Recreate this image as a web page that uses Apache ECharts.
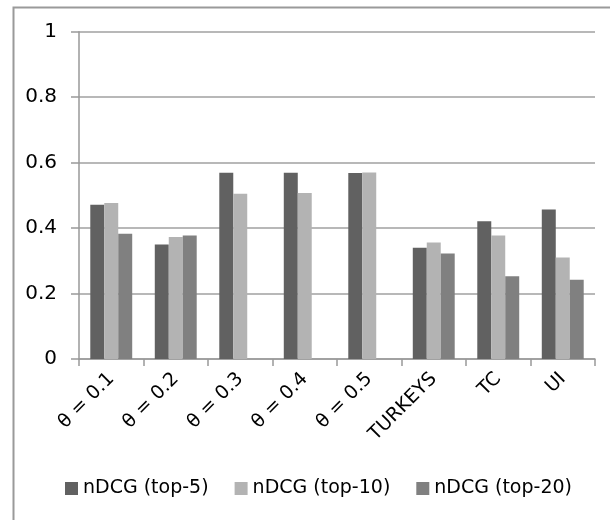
<!DOCTYPE html>
<html>
<head>
<meta charset="utf-8">
<script src="https://cdn.jsdelivr.net/npm/echarts@6/dist/echarts.min.js"></script>
<style>html,body{margin:0;padding:0;background:#fff;}#c{width:610px;height:520px;}</style>
</head>
<body>
<div id="c"></div>
<script>
var categories = ['θ = 0.1', 'θ = 0.2', 'θ = 0.3', 'θ = 0.4', 'θ = 0.5', 'TURKEYS', 'TC', 'UI'];
var seriesNames = ['nDCG (top-5)', 'nDCG (top-10)', 'nDCG (top-20)'];
var top5 = [0.471, 0.350, 0.569, 0.569, 0.568, 0.340, 0.421, 0.457];
var top10 = [0.477, 0.373, 0.505, 0.507, 0.570, 0.356, 0.377, 0.310];
var top20 = [0.383, 0.377, null, null, null, 0.322, 0.253, 0.242];
var yTicks = [0, 0.2, 0.4, 0.6, 0.8, 1];

var colors = ['#616161', '#b3b3b3', '#808080'];
var font = 'DejaVu Sans';
var chart = echarts.init(document.getElementById('c'), null, {renderer: 'canvas'});
var values = [top5, top10, top20];
chart.setOption({
  animation: false,
  backgroundColor: '#ffffff',
  color: colors,
  graphic: [{
    type: 'rect', left: 11, top: 5, z: -1,
    shape: {x: 0, y: 0, width: 1000, height: 1000},
    style: {fill: 'none', stroke: '#9a9a9a', lineWidth: 2}
  }],
  grid: {left: 79, right: 15, top: 31.7, bottom: 161, containLabel: false},
  legend: {
    left: 65, top: 479, padding: 0,
    icon: 'rect', itemWidth: 13, itemHeight: 13, itemGap: 26,
    textStyle: {fontFamily: font, fontSize: 19, color: '#000'},
    data: seriesNames
  },
  xAxis: {
    type: 'category',
    data: categories,
    axisLine: {lineStyle: {color: '#999', width: 1.5}},
    axisTick: {show: true, length: 7, lineStyle: {color: '#999', width: 1.5}},
    axisLabel: {rotate: 45, margin: 17, interval: 0, fontFamily: font, fontSize: 19, color: '#000'}
  },
  yAxis: {
    type: 'value',
    min: 0, max: 1, interval: 0.2,
    axisLine: {show: true, lineStyle: {color: '#999', width: 1.5}},
    axisTick: {show: true, length: 8, lineStyle: {color: '#999', width: 1.5}},
    splitLine: {lineStyle: {color: '#a0a0a0', width: 1.5}},
    axisLabel: {
      margin: 22, fontFamily: font, fontSize: 20, color: '#000',
      formatter: function (v) { var r = yTicks.filter(function (t) { return Math.abs(t - v) < 1e-9; }); return r.length ? String(r[0]) : ''; }
    }
  },
  series: seriesNames.map(function (n, i) {
    return {
      name: n, type: 'bar', data: values[i],
      barGap: '0%', barCategoryGap: '35%',
      itemStyle: {color: colors[i]}
    };
  })
});
</script>
</body>
</html>
